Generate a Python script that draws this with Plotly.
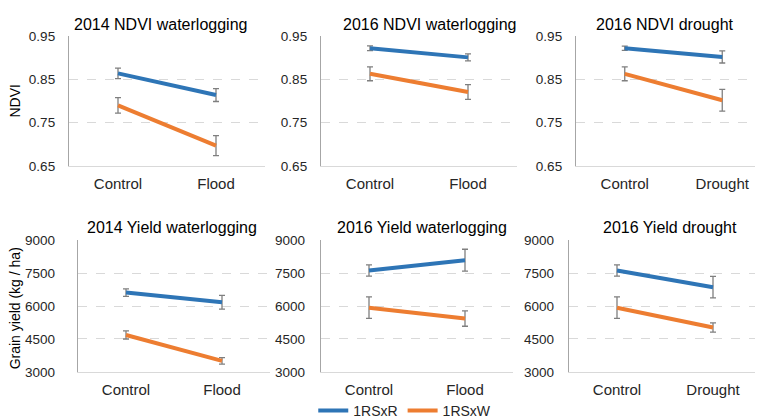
import plotly.graph_objects as go

BLUE = "#2E75B6"
ORANGE = "#ED7D31"
ERR = "#7F7F7F"
FONT = "Liberation Sans, Arial, sans-serif"

# ── Data ───────────────────────────────────────────────────────────────────────
cats_flood = ["Control", "Flood"]
cats_drought = ["Control", "Drought"]

titles = ["2014 NDVI waterlogging", "2016 NDVI waterlogging", "2016 NDVI drought",
          "2014 Yield waterlogging", "2016 Yield waterlogging", "2016 Yield drought"]

rsxr_mean = [[0.864, 0.814], [0.922, 0.901], [0.922, 0.902],
             [6615, 6176], [7625, 8093], [7625, 6864]]
rsxr_err = [[0.012, 0.015], [0.0055, 0.008], [0.005, 0.014],
            [170, 315], [255, 500], [255, 490]]
rsxw_mean = [[0.790, 0.697], [0.863, 0.821], [0.863, 0.802],
             [4683, 3498], [5927, 5430], [5927, 5021]]
rsxw_err = [[0.018, 0.023], [0.016, 0.017], [0.016, 0.025],
            [185, 150], [490, 350], [490, 210]]

ndvi_ticks = [0.65, 0.75, 0.85, 0.95]
yield_ticks = [3000, 4500, 6000, 7500, 9000]

# ── Layout geometry (pixels) ──────────────────────────────────────────────────
W, H = 763, 419
x_px = [(61, 257), (313, 509), (568, 764), (70, 262), (313, 505), (561, 753)]
y_px = [(22, 157)] * 3 + [(234.3, 371)] * 3
y_standoff = [10, 10, 10, 19, 12, 11]
title_pos = [(152, 10), (421, 10), (657, 10), (164, 221), (414, 221), (662, 221)]

fig = go.Figure()
for i in range(6):
    n = "" if i == 0 else str(i + 1)
    cats = cats_drought if i in (2, 5) else cats_flood
    for name, mean, err, color in (("1RSxR", rsxr_mean, rsxr_err, BLUE),
                                   ("1RSxW", rsxw_mean, rsxw_err, ORANGE)):
        fig.add_trace(go.Scatter(
            x=cats, y=mean[i], mode="lines", name=name, showlegend=(i == 0),
            line=dict(color=color, width=4),
            error_y=dict(type="data", array=err[i], color=ERR, thickness=1.3, width=3),
            xaxis="x" + n, yaxis="y" + n,
        ))
    x0, x1 = x_px[i]
    top, bot = y_px[i]
    ndvi = i < 3
    fig.update_layout({
        "xaxis" + n: dict(
            domain=[x0 / W, min(x1 / W, 1)], anchor="y" + n, type="category",
            range=[-0.5, 1.5], showgrid=False, showline=True, linecolor="#D9D9D9",
            linewidth=1, ticks="", ticklabelstandoff=4,
            tickfont=dict(size=15, color="#262626", family=FONT),
        ),
        "yaxis" + n: dict(
            domain=[(H - bot) / H, (H - top) / H], anchor="x" + n,
            range=[0.65, 0.95] if ndvi else [3000, 9000],
            tickvals=ndvi_ticks if ndvi else yield_ticks,
            tickformat=".2f" if ndvi else "d",
            showgrid=True, gridcolor="#D9D9D9", griddash="dash", gridwidth=1,
            showline=True, linecolor="#A6A6A6", linewidth=1.3, zeroline=False,
            ticks="", ticklabelstandoff=y_standoff[i],
            tickfont=dict(size=13.5, color="#262626", family=FONT),
        ),
    })
    tx, ty = title_pos[i]
    fig.add_annotation(text=titles[i], x=tx / W, y=(H - ty) / H, xref="paper", yref="paper",
                       showarrow=False, xanchor="center", yanchor="middle",
                       font=dict(size=16, color="#000000", family=FONT))

fig.add_annotation(text="NDVI", x=7 / W, y=(H - 90) / H, xref="paper", yref="paper",
                   textangle=-90, showarrow=False, xanchor="center", yanchor="middle",
                   font=dict(size=14, color="#000000", family=FONT))
fig.add_annotation(text="Grain yield (kg / ha)", x=7 / W, y=(H - 305) / H,
                   xref="paper", yref="paper", textangle=-90, showarrow=False,
                   xanchor="center", yanchor="middle",
                   font=dict(size=14, color="#000000", family=FONT))

fig.update_layout(
    width=W, height=H, margin=dict(l=0, r=0, t=0, b=0),
    plot_bgcolor="white", paper_bgcolor="white",
    legend=dict(orientation="h", x=0.52, xanchor="center", y=7 / H, yanchor="middle",
                bgcolor="rgba(0,0,0,0)",
                font=dict(size=14, color="#262626", family=FONT),
                itemwidth=30, tracegroupgap=0),
    font=dict(family=FONT),
)

fig.write_html("out.html")
